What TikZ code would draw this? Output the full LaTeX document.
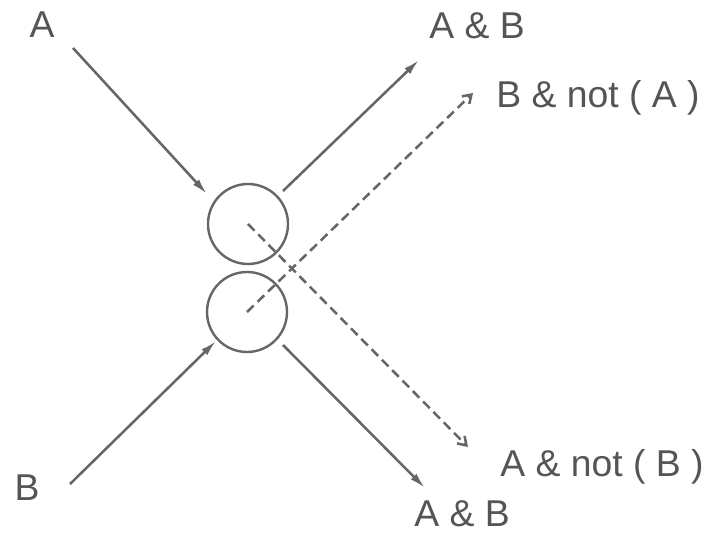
\documentclass[tikz,border=0pt]{standalone}
\usepackage{fontspec}
\setmainfont{Liberation Sans}
\usetikzlibrary{arrows.meta}
\definecolor{inkgray}{HTML}{666666}
\definecolor{txtgray}{HTML}{555555}

\begin{document}
\begin{tikzpicture}[x=0.75pt, y=-0.75pt,
  lbl/.style={text=txtgray, font=\fontsize{28}{30}\selectfont, inner sep=0pt},
  gate/.style={draw=inkgray, circle, line width=1.8pt, minimum size=60pt, inner sep=0pt},
  arr/.style={-{Latex[length=12pt, width=6pt]}, draw=inkgray, fill=inkgray, line width=1.9pt},
  darr/.style={-{Straight Barb[length=6pt, width=8pt]}, draw=inkgray, line width=1.9pt, dash pattern=on 7pt off 4pt}]
\useasboundingbox (0,0) rectangle (711,534);
% the two gates
\node[gate] (upper) at (248,224) {};
\node[gate] (lower) at (247,312) {};
% texts
\node[lbl] (inA) at (42,25) {A};
\node[lbl] (inB) at (27,488) {B};
\node[lbl] (outAB) at (477,26) {A \& B};
\node[lbl] (outBnA) at (598,98) {B \& not ( A )};
\node[lbl] (outAnB) at (602,467) {A \& not ( B )};
\node[lbl] (outABlow) at (462,514) {A \& B};
% free ends of the connectors
\coordinate (aStart) at (73,48);
\coordinate (aEnd) at (207,194);
\coordinate (bStart) at (70,484);
\coordinate (bEnd) at (216,341);
\coordinate (upOut) at (283,191);
\coordinate (upTip) at (419,60);
\coordinate (lowOut) at (283,345);
\coordinate (lowTip) at (425,488);
\coordinate (bnaTip) at (473,93);
\coordinate (anbTip) at (468,447);
% connectors
\draw[arr] (aStart) -- (aEnd);
\draw[arr] (bStart) -- (bEnd);
\draw[arr] (upOut) -- (upTip);
\draw[arr] (lowOut) -- (lowTip);
\draw[darr] (lower.center) -- (bnaTip);
\draw[darr] (upper.center) -- (anbTip);
\end{tikzpicture}
\end{document}
